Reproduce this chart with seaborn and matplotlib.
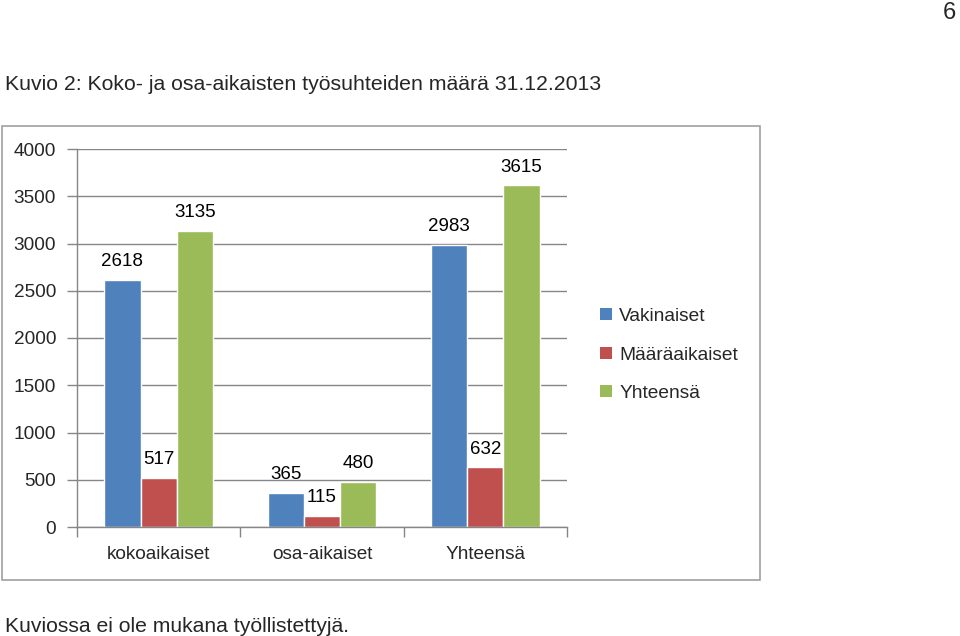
import matplotlib
matplotlib.use("Agg")
import matplotlib.pyplot as plt
import seaborn as sns
import pandas as pd
from matplotlib.patches import Rectangle, Patch
from matplotlib.ticker import FixedLocator

categories = ["kokoaikaiset", "osa-aikaiset", "Yhteensä"]
series_names = ["Vakinaiset", "Määräaikaiset", "Yhteensä"]
vakinaiset = [2618, 365, 2983]
maaraaikaiset = [517, 115, 632]
yhteensa = [3135, 480, 3615]
colors = ["#4F81BD", "#C0504D", "#9BBB59"]
yticks = [0, 500, 1000, 1500, 2000, 2500, 3000, 3500, 4000]

rows = []
for name, vals in zip(series_names, [vakinaiset, maaraaikaiset, yhteensa]):
    for c, v in zip(categories, vals):
        rows.append({"cat": c, "series": name, "value": v})
df = pd.DataFrame(rows)

sns.set_style("white")
plt.rcParams["font.family"] = ["Liberation Sans", "DejaVu Sans"]

fig = plt.figure(figsize=(9.6, 6.36), dpi=100)
ax = fig.add_axes([77/960, 1 - 527/636, 490/960, 378/636])

sns.barplot(data=df, x="cat", y="value", hue="series", palette=colors,
            width=0.667, saturation=1, ax=ax, legend=False, errorbar=None)

for cont in ax.containers:
    ax.bar_label(cont, padding=7, fontsize=13.5, color="black")

ax.set_xlim(-0.5, 2.5)
ax.set_ylim(0, 4000)
ax.set_yticks(yticks)
ax.set_yticklabels([str(t) for t in yticks], fontsize=13.7)
ax.set_xlabel("")
ax.set_ylabel("")
ax.tick_params(axis="y", length=7, width=1, color="#868686", pad=8, direction="out", left=True)
ax.tick_params(axis="x", which="major", length=0, pad=13.5, labelsize=13.7)
ax.xaxis.set_minor_locator(FixedLocator([-0.5, 0.5, 1.5, 2.5]))
ax.tick_params(axis="x", which="minor", length=7, width=1, color="#868686", direction="out", bottom=True)
ax.set_axisbelow(True)
ax.grid(axis="y", color="#868686", linewidth=1)
for s in ["top", "right"]:
    ax.spines[s].set_visible(False)
for s in ["left", "bottom"]:
    ax.spines[s].set_color("#868686")
    ax.spines[s].set_linewidth(1)

handles = [Patch(facecolor=c, edgecolor="none") for c in colors]
fig.legend(handles, series_names, loc="center left", bbox_to_anchor=(600/960, 1 - 355/636),
           frameon=False, fontsize=13.8, handlelength=0.6, handleheight=0.6,
           handletextpad=0.4, labelspacing=1.12, borderaxespad=0, borderpad=0)

fig.patches.append(Rectangle((2/960, 1 - 580/636), 758/960, 454/636, transform=fig.transFigure,
                             fill=False, edgecolor="#A0A0A0", linewidth=1.2))

fig.text(5/960, 1 - 84/636, "Kuvio 2: Koko- ja osa-aikaisten työsuhteiden määrä 31.12.2013",
         fontsize=15.3, va="center", ha="left")
fig.text(5/960, 1 - 626/636, "Kuviossa ei ole mukana työllistettyjä.",
         fontsize=15.2, va="center", ha="left")
fig.text(956/960, 1 - 13/636, "6", fontsize=17, va="center", ha="right")

fig.savefig("out.png", dpi=100)
